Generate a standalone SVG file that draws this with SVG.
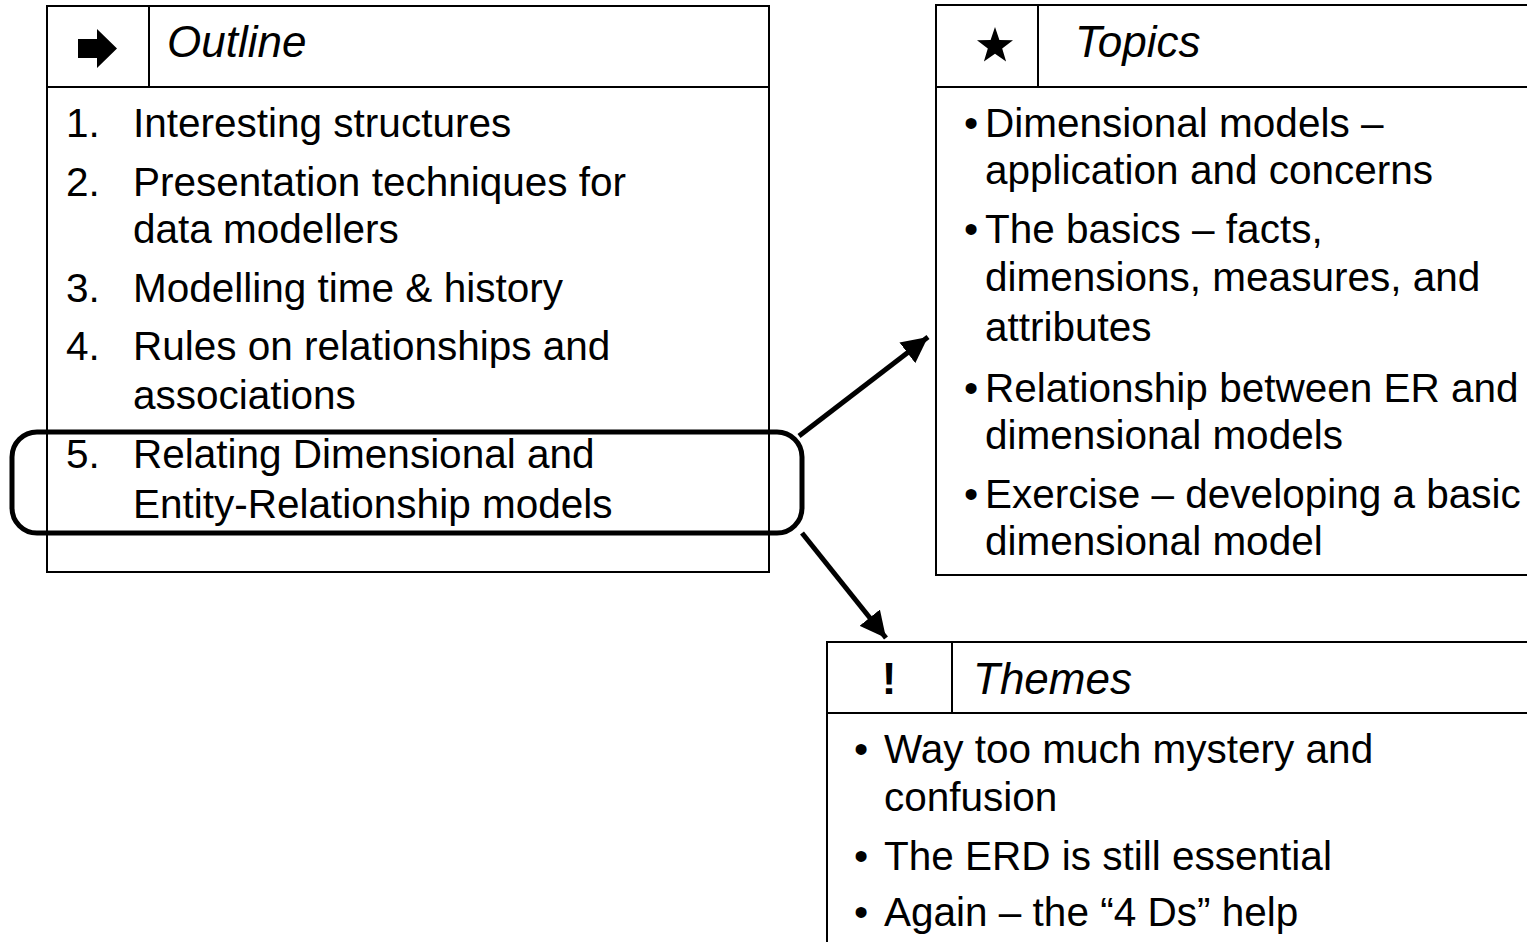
<svg xmlns="http://www.w3.org/2000/svg" width="1527" height="942" viewBox="0 0 1527 942">
<style>
.box{fill:none;stroke:#000;stroke-width:2}
.t{font-family:"Liberation Sans",Arial,Helvetica,sans-serif;font-size:40.5px;fill:#000}
.h{font-family:"Liberation Sans",Arial,Helvetica,sans-serif;font-size:44px;font-style:italic;fill:#000}
.b{text-anchor:middle}
.conn{stroke:#000;stroke-width:5;fill:none}
</style>
<defs>
<marker id="ah" markerUnits="userSpaceOnUse" markerWidth="28" markerHeight="26" refX="26" refY="13" orient="auto">
<path d="M0,0 L26,13 L0,26 Z" fill="#000"/>
</marker>
</defs>
<rect width="1527" height="942" fill="#fff"/>
<g id="outline">
<rect class="box" x="47" y="6" width="722" height="566"/>
<line class="box" x1="47" y1="87" x2="769" y2="87"/>
<line class="box" x1="149" y1="6" x2="149" y2="87"/>
<path d="M78,39 H97 V29 L117,48.5 L97,68 V58 H78 Z" fill="#000"/>
<text class="h" x="167" y="57">Outline</text>
<text class="t" x="66" y="137">1.</text><text class="t" x="133" y="137">Interesting structures</text>
<text class="t" x="66" y="196">2.</text><text class="t" x="133" y="196">Presentation techniques for</text>
<text class="t" x="133" y="243">data modellers</text>
<text class="t" x="66" y="302">3.</text><text class="t" x="133" y="302">Modelling time &amp; history</text>
<text class="t" x="66" y="360">4.</text><text class="t" x="133" y="360">Rules on relationships and</text>
<text class="t" x="133" y="409">associations</text>
<text class="t" x="66" y="468">5.</text><text class="t" x="133" y="468">Relating Dimensional and</text>
<text class="t" x="133" y="518">Entity-Relationship models</text>
</g>
<g id="highlight">
<rect x="12" y="432" width="790" height="101" rx="25" ry="25" fill="none" stroke="#000" stroke-width="5"/>
</g>
<g id="topics">
<rect class="box" x="936" y="5" width="600" height="570"/>
<line class="box" x1="936" y1="87" x2="1536" y2="87"/>
<line class="box" x1="1038" y1="5" x2="1038" y2="87"/>
<path d="M995,27 L999.4,40 L1013,40.3 L1002.2,48.5 L1006.1,61.5 L995,53.7 L983.9,61.5 L987.8,48.5 L977,40.3 L990.6,40 Z" fill="#000"/>
<text class="h" x="1075" y="57">Topics</text>
<text class="t b" x="971" y="137">•</text><text class="t" x="985" y="137">Dimensional models –</text>
<text class="t" x="985" y="184">application and concerns</text>
<text class="t b" x="971" y="243">•</text><text class="t" x="985" y="243">The basics – facts,</text>
<text class="t" x="985" y="291">dimensions, measures, and</text>
<text class="t" x="985" y="341">attributes</text>
<text class="t b" x="971" y="402">•</text><text class="t" x="985" y="402">Relationship between ER and</text>
<text class="t" x="985" y="449">dimensional models</text>
<text class="t b" x="971" y="508">•</text><text class="t" x="985" y="508">Exercise – developing a basic</text>
<text class="t" x="985" y="555">dimensional model</text>
</g>
<g id="themes">
<rect class="box" x="827" y="642" width="710" height="320"/>
<line class="box" x1="827" y1="713" x2="1537" y2="713"/>
<line class="box" x1="952" y1="642" x2="952" y2="713"/>
<text class="t b" x="889" y="694" style="font-size:44px;font-weight:bold">!</text>
<text class="h" x="973" y="694">Themes</text>
<text class="t b" x="861" y="763">•</text><text class="t" x="884" y="763">Way too much mystery and</text>
<text class="t" x="884" y="811">confusion</text>
<text class="t b" x="861" y="870">•</text><text class="t" x="884" y="870">The ERD is still essential</text>
<text class="t b" x="861" y="926">•</text><text class="t" x="884" y="926">Again – the “4 Ds” help</text>
</g>
<g id="connectors">
<line class="conn" x1="799" y1="436" x2="928" y2="337" marker-end="url(#ah)"/>
<line class="conn" x1="802" y1="533" x2="886" y2="638" marker-end="url(#ah)"/>
</g>
</svg>
